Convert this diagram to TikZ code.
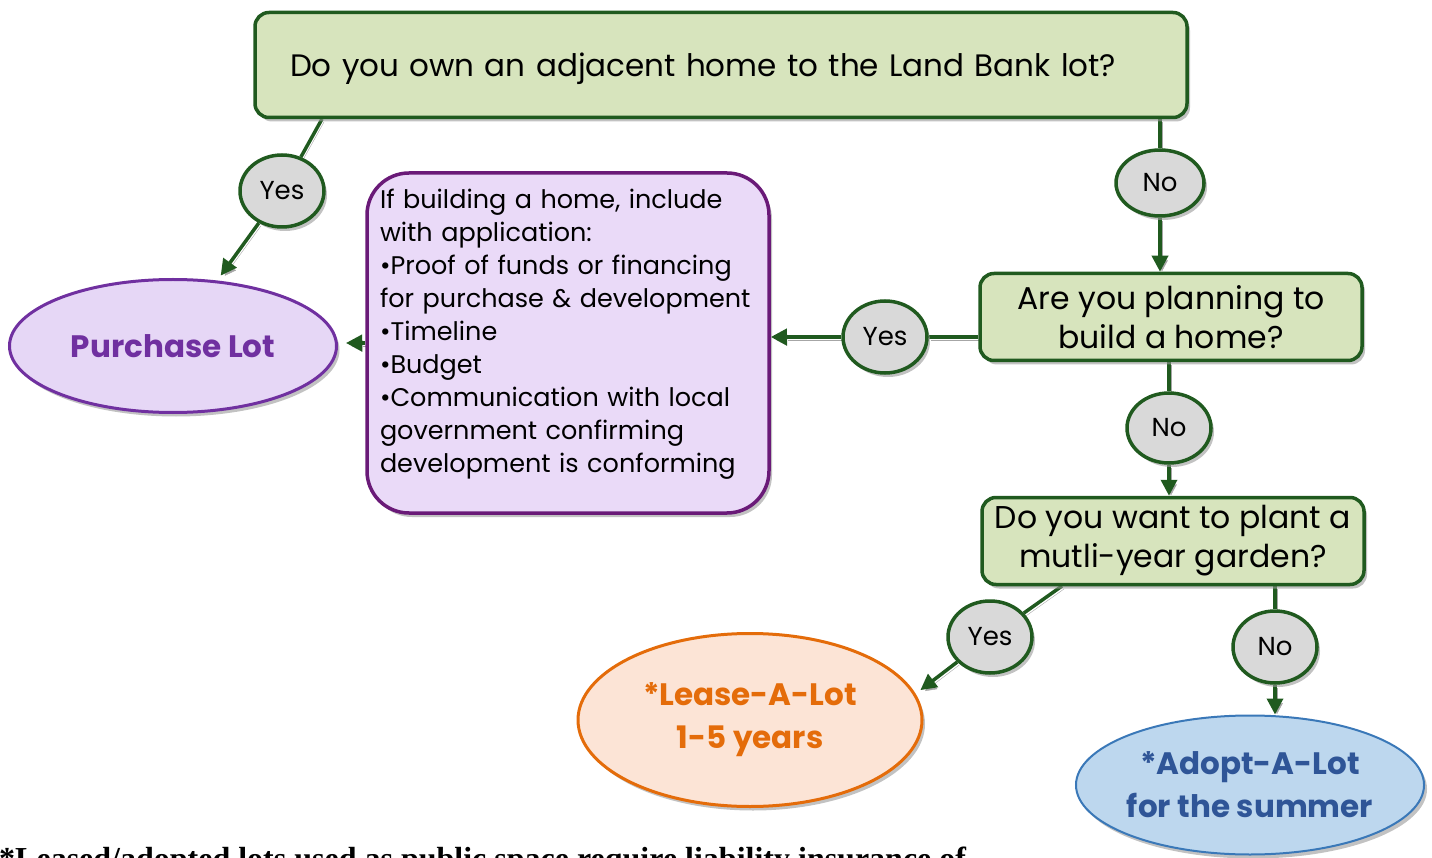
\documentclass[tikz,border=0pt]{standalone}
\usepackage{fontspec}
\setmainfont{Poppins}
\newfontfamily\notefont{Liberation Serif}
\usetikzlibrary{positioning,shapes.geometric,arrows.meta,shadows,backgrounds,calc}
\definecolor{edgegreen}{HTML}{205A1F}
\definecolor{askgreen}{HTML}{D7E4BD}
\definecolor{answergray}{HTML}{D9D9D9}
\definecolor{buypurple}{HTML}{7030A0}
\definecolor{buyfill}{HTML}{E6D7F6}
\definecolor{infopurple}{HTML}{6A1A78}
\definecolor{infofill}{HTML}{EADAF8}
\definecolor{leaseorange}{HTML}{E46C0A}
\definecolor{leasefill}{HTML}{FCE4D6}
\definecolor{adoptblue}{HTML}{3A78B8}
\definecolor{adoptfill}{HTML}{BDD7EE}
\definecolor{adopttext}{HTML}{2F5597}
\tikzset{
  % gray drop shadow under every shape
  shade/.style   = {drop shadow={shadow xshift=3pt, shadow yshift=-4pt,
                    fill=black!40, opacity=0.6}},
  % question box
  ask/.style     = {rectangle, rounded corners=14pt, draw=edgegreen, line width=3.5pt,
                    fill=askgreen, align=center, inner sep=0pt, shade,
                    font=\fontsize{31.5}{39}\selectfont},
  % yes / no bubble
  answer/.style  = {ellipse, draw=edgegreen, line width=3.5pt, fill=answergray,
                    inner sep=0pt, minimum width=84pt, minimum height=72pt, shade,
                    font=\fontsize{26}{30}\selectfont},
  % application checklist
  infobox/.style = {rectangle, rounded corners=42pt, draw=infopurple, line width=3.5pt,
                    fill=infofill, align=left, text width=376pt, inner xsep=13pt,
                    minimum height=340pt, shade, font=\fontsize{25.5}{33}\selectfont,
                    execute at end node={\par\vspace*{17pt}}},
  % end result
  outcome/.style = {ellipse, line width=3pt, inner sep=0pt, align=center, shade,
                    font=\bfseries\fontsize{31}{43}\selectfont},
  % footnote
  note/.style    = {inner sep=0pt, font=\notefont\bfseries\fontsize{32}{36}\selectfont},
  % arrows
  link/.style    = {line width=3.5pt, edgegreen,
                    preaction={draw, black!35, transform canvas={shift={(2pt,-3pt)}}}},
  flow/.style    = {link, -{Triangle[length=16pt, width=16pt]}},
}
\begin{document}
\begin{tikzpicture}[x=1pt, y=-1pt]
  \useasboundingbox (0,0) rectangle (1432,858);
  \clip (0,0) rectangle (1432,858);

  % --- questions ---
  \node[ask, align=left, text width=862pt, inner xsep=35pt, minimum height=105pt,
        font=\fontsize{31}{39}\selectfont, execute at end node={\par\vspace*{-18pt}}] (q1)
       at (721,65) {Do you own an adjacent home to the Land Bank lot?};
  \node[ask, minimum width=382pt, minimum height=87pt] (q2)
       at (1171,317) {Are you planning to\\build a home?};
  \node[ask, minimum width=382pt, minimum height=87pt] (q3)
       at (1173,541) {Do you want to plant a\\mutli-year garden?};

  % --- checklist ---
  \node[infobox] (info) at (568,343)
       {If building a home, include\\with application:\\•Proof of funds or financing\\
        for purchase \& development\\•Timeline\\•Budget\\•Communication with local\\
        government confirming\\development is conforming};

  % --- outcomes ---
  \node[outcome, draw=buypurple, fill=buyfill, text=buypurple,
        minimum width=327pt, minimum height=133pt] (buy) at (173,346) {Purchase Lot};
  \node[outcome, draw=leaseorange, fill=leasefill, text=leaseorange,
        minimum width=344pt, minimum height=173pt] (lease) at (750,720)
       {*Lease-A-Lot\\1-5 years};
  \node[outcome, draw=adoptblue, line width=2pt, fill=adoptfill, text=adopttext,
        minimum width=344pt, minimum height=139pt] (adopt) at (1250,785)
       {*Adopt-A-Lot\\for the summer};

  % --- answers ---
  \node[answer] (yes1) at (282,191) {Yes};
  \node[answer, minimum width=88pt, minimum height=66pt] (no1) at (1160,183) {No};
  \node[answer] (yes2) at (885,337) {Yes};
  \node[answer, minimum height=70pt] (no2) at (1169,428) {No};
  \node[answer] (yes3) at (990,637) {Yes};
  \node[answer] (no3) at (1275,647) {No};

  \node[note, anchor=base west] (insnote) at (-1,869)
       {*Leased/adopted lots used as public space require liability insurance of};

  % connectors (drawn behind)
  \begin{scope}[on background layer]
    \coordinate (q1yes) at (322,119);
    \coordinate (q3yes) at (1062,586);
    \draw[link] (q1yes) -- (yes1);
    \draw[flow, shorten >=6pt] (yes1) -- (buy.56);
    \draw[flow, shorten >=8pt] (info.west) -- (info.west -| buy.east);
    \draw[link] (no1 |- q1.south) -- (no1);
    \draw[flow] (no1) -- (no1 |- q2.north);
    \draw[link] (q2.west |- yes2) -- (yes2);
    \draw[flow] (yes2) -- (yes2 -| info.east);
    \draw[link] (no2 |- q2.south) -- (no2);
    \draw[flow] (no2) -- (no2 |- q3.north);
    \draw[link] (q3yes) -- (yes3);
    \draw[flow, shorten >=6pt] (yes3) -- (lease.9);
    \draw[link] (no3 |- q3.south) -- (no3);
    \draw[flow] (no3) -- (no3 |- adopt.north);
  \end{scope}

\end{tikzpicture}
\end{document}
